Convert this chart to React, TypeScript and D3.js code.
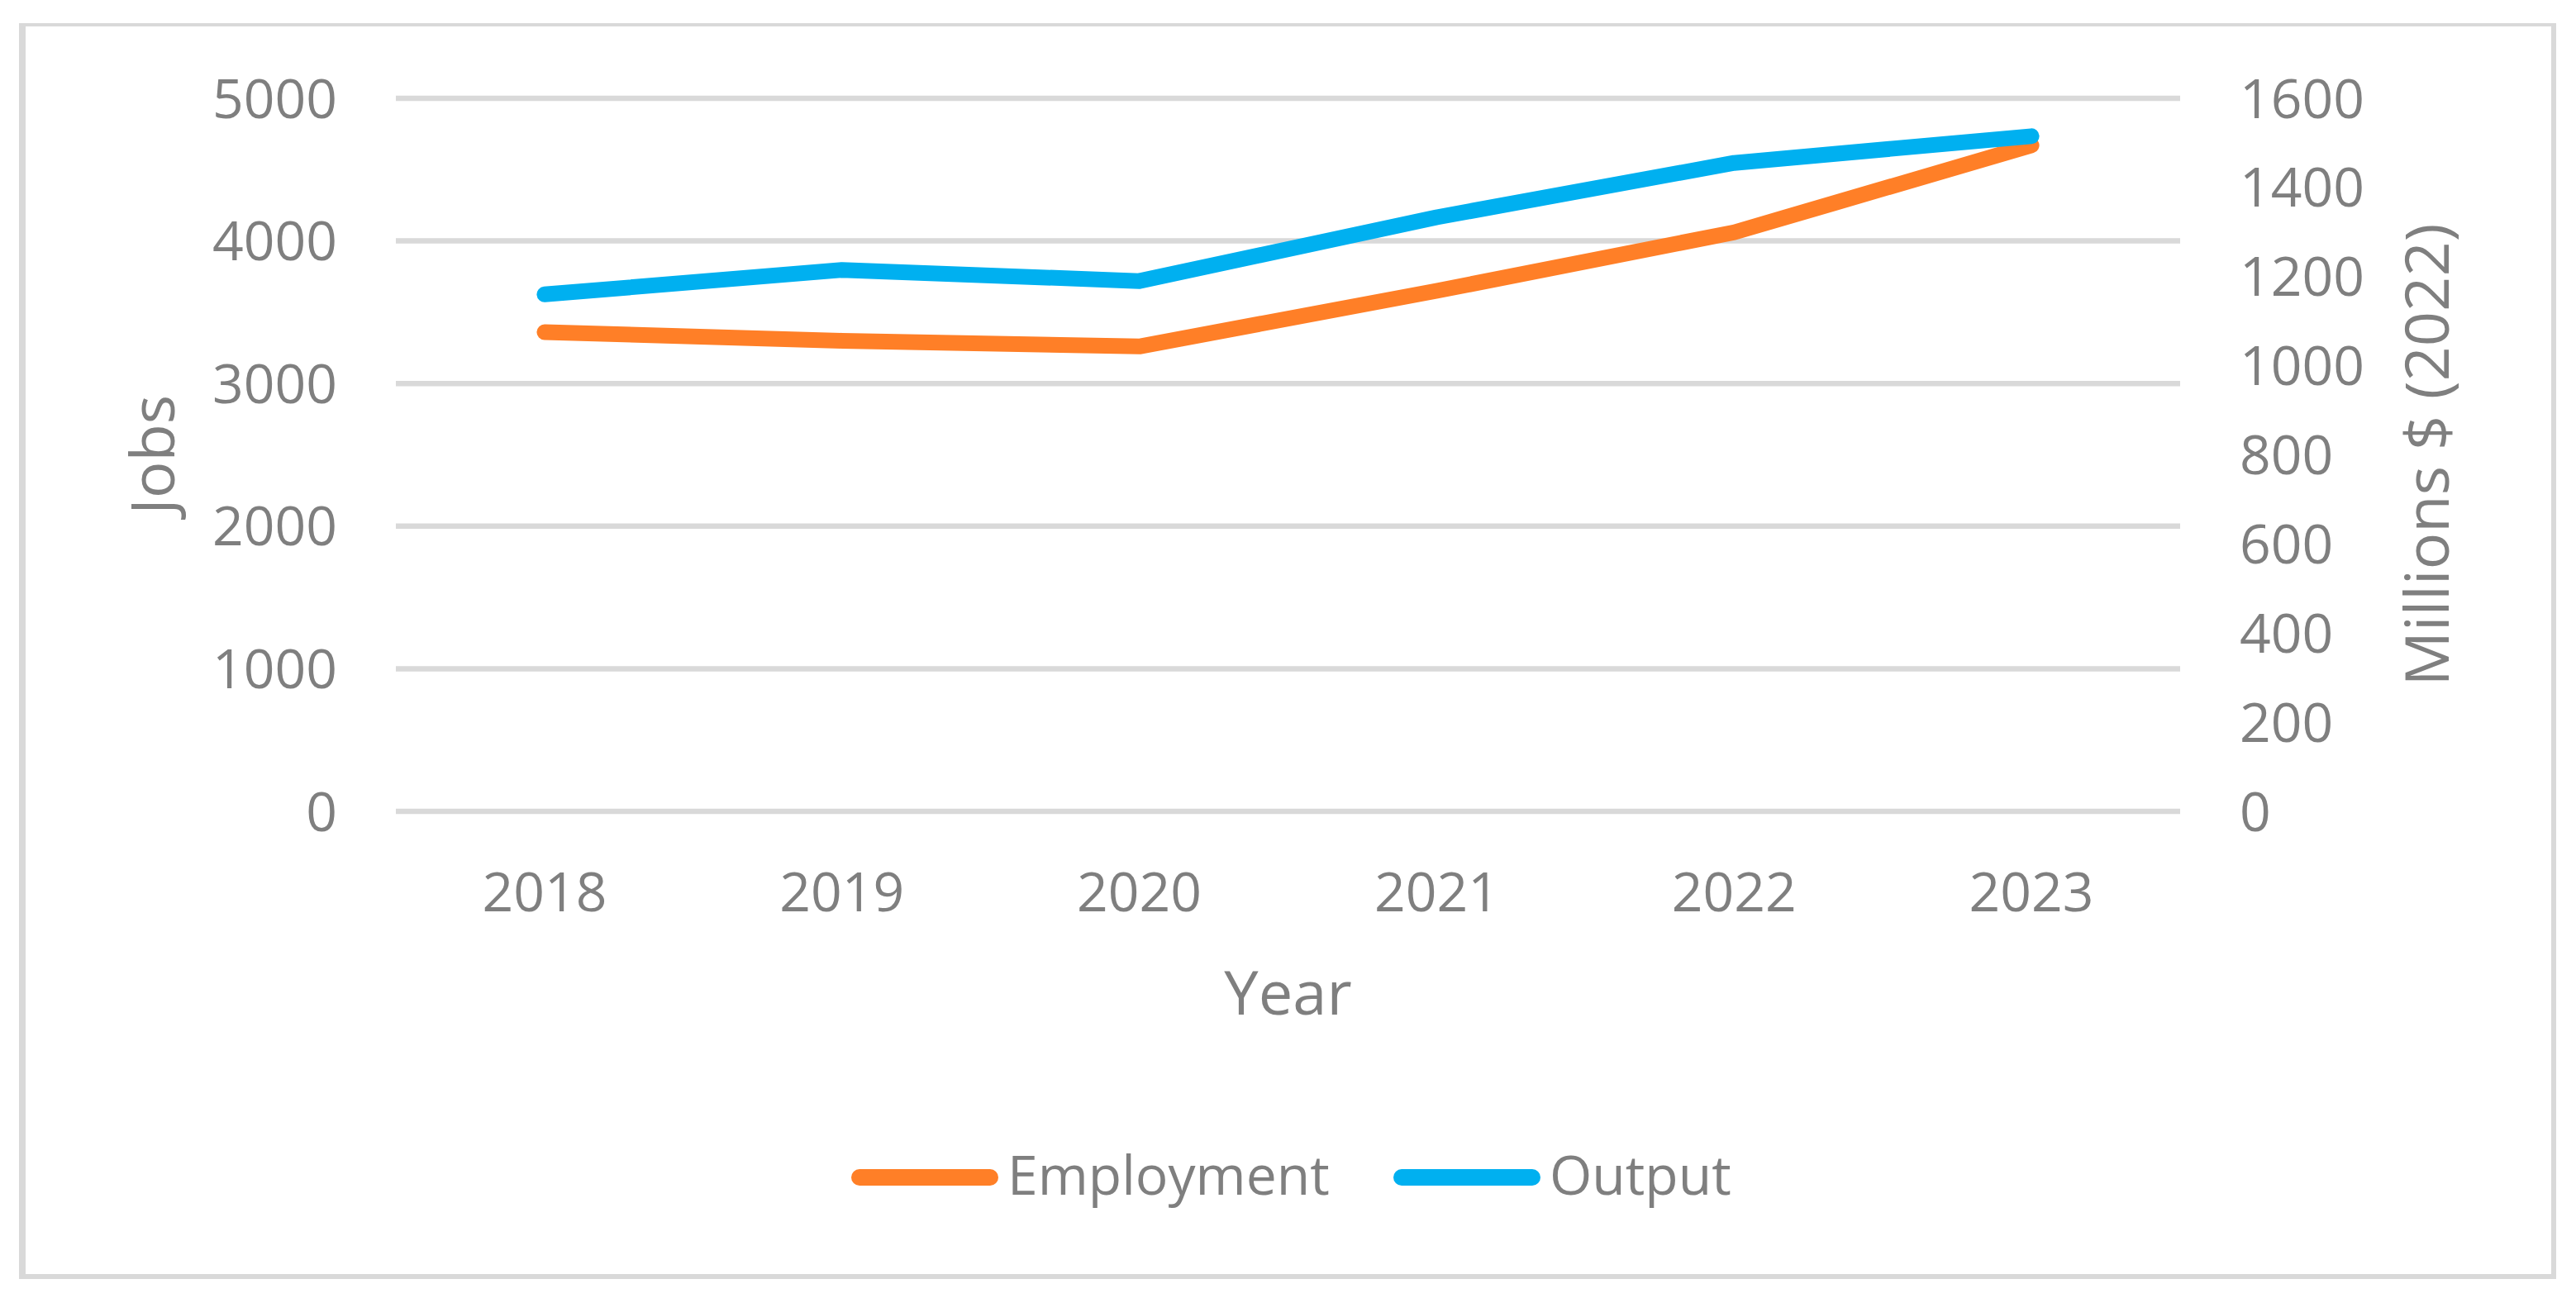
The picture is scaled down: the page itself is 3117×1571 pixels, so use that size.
import React from 'react';
import * as d3 from 'd3';

const years = ['2018', '2019', '2020', '2021', '2022', '2023'];
const employment = [3360, 3300, 3260, 3650, 4060, 4670];
const output = [1160, 1215, 1190, 1333, 1455, 1515];
const leftTicks = [0, 1000, 2000, 3000, 4000, 5000];
const rightTicks = [0, 200, 400, 600, 800, 1000, 1200, 1400, 1600];
const seriesNames = ['Employment', 'Output'];
const seriesColors = ['#FF7F27', '#00B0F0'];

const FONT = '"Open Sans", "Noto Sans", sans-serif';
const GREY = '#7f7f7f';

class App extends React.Component {
    ref: any;
    constructor(props: any) {
        super(props);
        this.ref = React.createRef();
        this.drawChart = this.drawChart.bind(this);
    }

    componentDidMount() {
        document.body.style.margin = '0';
        this.drawChart();
    }

    drawChart() {
        var width = 3117, height = 1571;
        var plot = { left: 479, right: 2638, top: 119, bottom: 982 };

        var svg = d3.select(this.ref.current)
            .attr('width', width)
            .attr('height', height)
            .attr('viewBox', '0 0 ' + width + ' ' + height);
        svg.selectAll('*').remove();

        svg.append('rect')
            .attr('width', width).attr('height', height).attr('fill', '#ffffff');

        // outer chart frame (edges are not all the same weight in the original)
        var frame = [
            { x1: 23, y1: 30, x2: 3093, y2: 30, w: 4 },
            { x1: 27, y1: 28, x2: 27, y2: 1548, w: 8 },
            { x1: 3090, y1: 28, x2: 3090, y2: 1548, w: 6 },
            { x1: 23, y1: 1545, x2: 3093, y2: 1545, w: 6 },
        ];
        svg.append('g').selectAll('line')
            .data(frame).enter().append('line')
            .attr('x1', (d: any) => d.x1).attr('y1', (d: any) => d.y1)
            .attr('x2', (d: any) => d.x2).attr('y2', (d: any) => d.y2)
            .attr('stroke', '#d9d9d9')
            .attr('stroke-width', (d: any) => d.w);

        var x = d3.scalePoint().domain(years).range([plot.left, plot.right]).padding(0.5);
        var yLeft = d3.scaleLinear().domain([0, 5000]).range([plot.bottom, plot.top]);
        var yRight = d3.scaleLinear().domain([0, 1600]).range([plot.bottom, plot.top]);

        // gridlines
        svg.append('g').selectAll('line')
            .data(leftTicks).enter().append('line')
            .attr('x1', plot.left).attr('x2', plot.right)
            .attr('y1', (d: any) => yLeft(d)).attr('y2', (d: any) => yLeft(d))
            .attr('stroke', '#d9d9d9').attr('stroke-width', 6.5);

        // left tick labels
        svg.append('g').selectAll('text')
            .data(leftTicks).enter().append('text')
            .attr('x', 408)
            .attr('y', (d: any) => yLeft(d) + 23.5)
            .attr('text-anchor', 'end')
            .style('font-family', FONT).style('font-size', '66px').style('fill', GREY)
            .text((d: any) => d);

        // right tick labels
        svg.append('g').selectAll('text')
            .data(rightTicks).enter().append('text')
            .attr('x', 2710)
            .attr('y', (d: any) => yRight(d) + 23.5)
            .attr('text-anchor', 'start')
            .style('font-family', FONT).style('font-size', '66px').style('fill', GREY)
            .text((d: any) => d);

        // x labels
        svg.append('g').selectAll('text')
            .data(years).enter().append('text')
            .attr('x', (d: any) => x(d))
            .attr('y', 1103)
            .attr('text-anchor', 'middle')
            .style('font-family', FONT).style('font-size', '66px').style('fill', GREY)
            .text((d: any) => d);

        // axis titles
        svg.append('text')
            .attr('x', (plot.left + plot.right) / 2).attr('y', 1228)
            .attr('text-anchor', 'middle')
            .style('font-family', FONT).style('font-size', '74px').style('fill', GREY)
            .text('Year');

        svg.append('text')
            .attr('transform', 'translate(211,' + (plot.top + plot.bottom) / 2 + ') rotate(-90)')
            .attr('text-anchor', 'middle')
            .style('font-family', FONT).style('font-size', '74px').style('fill', GREY)
            .text('Jobs');

        svg.append('text')
            .attr('transform', 'translate(2963,' + (plot.top + plot.bottom) / 2 + ') rotate(-90)')
            .attr('text-anchor', 'middle')
            .style('font-family', FONT).style('font-size', '74px').style('fill', GREY)
            .text('Millions $ (2022)');

        // series lines
        var lineLeft = d3.line<any>()
            .x((d: any, i: number) => x(years[i]) as number)
            .y((d: any) => yLeft(d));
        var lineRight = d3.line<any>()
            .x((d: any, i: number) => x(years[i]) as number)
            .y((d: any) => yRight(d));

        svg.append('path')
            .attr('d', lineLeft(employment) as string)
            .attr('fill', 'none')
            .attr('stroke', seriesColors[0])
            .attr('stroke-width', 19)
            .attr('stroke-linecap', 'round')
            .attr('stroke-linejoin', 'round');

        svg.append('path')
            .attr('d', lineRight(output) as string)
            .attr('fill', 'none')
            .attr('stroke', seriesColors[1])
            .attr('stroke-width', 19)
            .attr('stroke-linecap', 'round')
            .attr('stroke-linejoin', 'round');

        // legend
        var legendX = [1040, 1696];
        var legend = svg.append('g').selectAll('g')
            .data(seriesNames).enter().append('g');
        legend.append('line')
            .attr('x1', (d: any, i: number) => legendX[i])
            .attr('x2', (d: any, i: number) => legendX[i] + 158)
            .attr('y1', 1425).attr('y2', 1425)
            .attr('stroke', (d: any, i: number) => seriesColors[i])
            .attr('stroke-width', 20)
            .attr('stroke-linecap', 'round');
        legend.append('text')
            .attr('x', (d: any, i: number) => legendX[i] + 179)
            .attr('y', 1446)
            .style('font-family', FONT).style('font-size', '66px').style('fill', GREY)
            .text((d: any) => d);
    }

    render() {
        return <svg ref={this.ref} style={{ display: 'block' }}></svg>;
    }
}

export default App;
